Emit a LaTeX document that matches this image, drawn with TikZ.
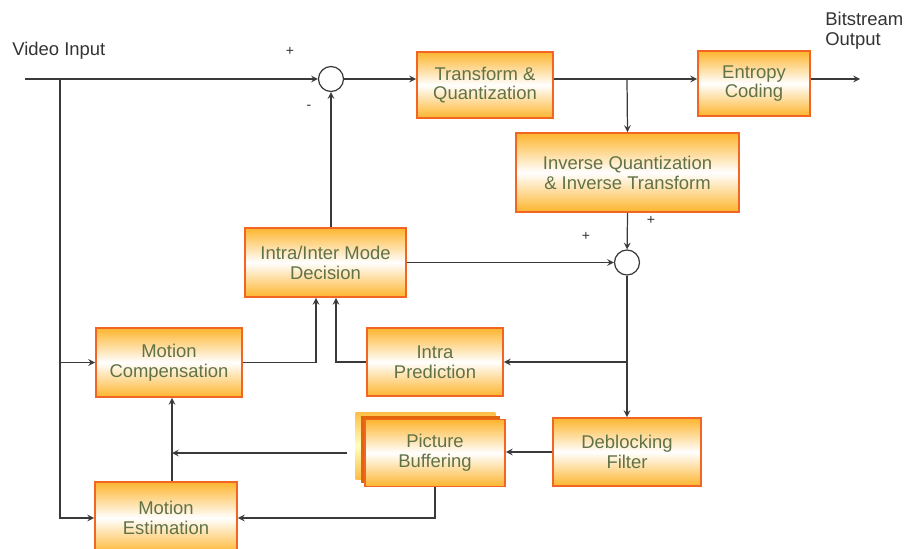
\documentclass[tikz,border=0pt]{standalone}
\usepackage{fontspec}
\setmainfont{Liberation Sans}
\usepackage{xcolor}
\usepackage{tikz}
\usetikzlibrary{shapes, arrows, positioning, calc, shadows}

\definecolor{boxedge}{HTML}{F26522}
\definecolor{boxfill}{HTML}{FDB52E}
\definecolor{boxtext}{HTML}{627247}
\definecolor{linegray}{HTML}{3A3A3A}
\definecolor{pbback}{HTML}{FDBE45}
\definecolor{pbmid}{HTML}{E2650C}

\begin{document}
\begin{tikzpicture}[x=0.02cm, y=-0.02cm, >=stealth,
  block/.style={draw=boxedge, line width=1.1pt, top color=boxfill, bottom color=boxfill, middle color=white,
    text=boxtext, align=center, inner sep=0pt, font=\fontsize{10.5}{11.3}\selectfont},
  sumnode/.style={draw=linegray, circle, fill=white, minimum size=0.5cm, inner sep=0pt, line width=0.7pt},
  flow/.style={draw=linegray, line width=0.7pt},
  lbl/.style={text=black!80, inner sep=0pt, font=\fontsize{10.5}{11.3}\selectfont},
  sign/.style={text=black!80, inner sep=0pt, font=\footnotesize}]
\useasboundingbox (0,0) rectangle (906,548);

% Forward path
\node[lbl, anchor=west] (vin) at (12,51) {Video Input};
\node[sumnode] (s1) at (331,79) {};
\node[sign] (p1) at (290,51) {+};
\node[sign] (m1) at (309,107) {-};
\node[block, minimum width=2.72cm, minimum height=1.32cm] (tq) at (485,85) {Transform \&\\Quantization};
\node[block, minimum width=2.24cm, minimum height=1.30cm] (ec) at (754,83.5) {Entropy\\Coding};
\node[lbl, align=left, anchor=north west] (bout) at (825,12) {Bitstream\\Output};

% Reconstruction loop
\node[block, minimum width=4.46cm, minimum height=1.58cm] (iq) at (627.5,172.5) {Inverse Quantization\\\& Inverse Transform};
\node[sumnode] (s2) at (627,262.5) {};
\node[sign] (p2) at (586,236) {+};
\node[sign] (p3) at (651,220) {+};
\node[block, minimum width=3.22cm, minimum height=1.38cm] (md) at (325.5,262.5) {Intra/Inter Mode\\Decision};
\node[block, minimum width=2.72cm, minimum height=1.36cm] (ip) at (435,362) {Intra\\Prediction};
\node[block, minimum width=2.92cm, minimum height=1.38cm] (mc) at (169,362.5) {Motion\\Compensation};
\node[block, minimum width=2.84cm, minimum height=1.44cm] (me) at (166,518) {Motion\\Estimation};
\node[block, minimum width=2.80cm, minimum height=1.34cm,
  general shadow={shadow xshift=-0.19cm, shadow yshift=0.15cm, draw=none,
    top color=pbback, bottom color=pbback, middle color=yellow!25},
  general shadow={shadow xshift=-0.09cm, shadow yshift=0.08cm, fill=pbmid, draw=none}] (pb) at (435,453) {Picture\\Buffering};
\node[block, minimum width=2.96cm, minimum height=1.36cm] (df) at (627,452) {Deblocking\\Filter};

\coordinate (in) at (25,79);
\coordinate (split) at (60,79);
\coordinate (b1) at (627,79);
\coordinate (out) at (860,79);
\coordinate (b2) at (627,362);
\coordinate (j) at (172,453);

% Connectors
\draw[flow,->] (in) -- (s1);
\draw[flow,->] (s1) -- (s1 -| tq.west);
\draw[flow,->] (tq.east |- s1) -- (ec.west |- s1);
\draw[flow,->] (b1) -- (iq.north);
\draw[flow,->] (ec.east |- s1) -- (out);
\draw[flow,->] (iq.south) -- (s2);
\draw[flow,->] (md.east) -- (s2);
\draw[flow,->] (s1 |- md.north) -- (s1);
\draw[flow,->] (s2) -- (df.north);
\draw[flow,->] (b2) -- (ip.east);
\draw[flow,->] (ip.west) -| ($(md.south)+(10.5,0)$);
\draw[flow,->] (mc.east) -| ($(md.south)+(-9.5,0)$);
\draw[flow,->] (split) |- (mc.west);
\draw[flow,->] (split) |- (me.west);
\draw[flow,->] (me.north -| j) -- (mc.south -| j);
\draw[flow,->] ($(pb.west)+(-17,0)$) -- (j);
\draw[flow,->] (df.west) -- (df.west -| pb.east);
\draw[flow,->] (pb.south) |- (me.east);
\end{tikzpicture}
\end{document}
